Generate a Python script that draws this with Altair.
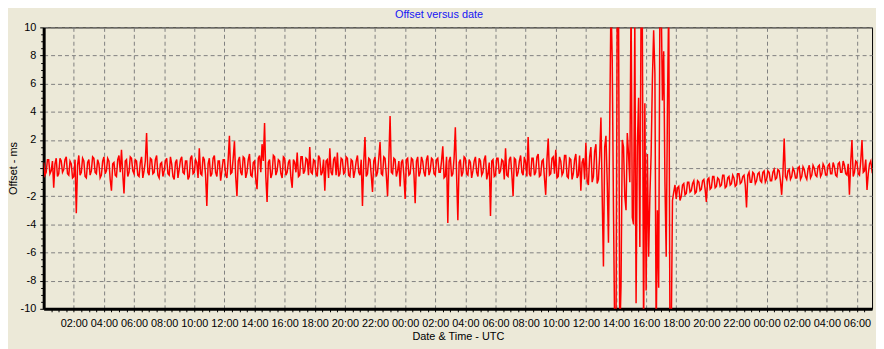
import altair as alt
import pandas as pd

# Clock offset in ms. Readings every 10 minutes from 00:00 UTC (day 1) ...
offset_day1 = [
    0.4, -0.3, 0.6, -0.2, -1.4, 0.7, -0.4, 0.5, -0.1, 0.8, -0.5, 0.3,
    -0.6, -3.2, 0.9, -0.3, 0.5, -0.7, 0.6, -0.2, 0.7, -0.4, 0.3, -0.5,
    0.8, -0.2, 0.5, -1.6, 0.4, -0.6, 0.9, 1.3, -1.8, 0.6, -0.3, 0.7,
    -0.4, 0.5, -0.6, 0.8, -0.2, 2.5, -0.5, 0.6, -0.3, 0.9, -0.7, 0.4,
    -0.2, 0.7, -0.5, 0.3, -0.8, 0.6, -0.1, 0.8, -0.4, 0.5, -0.6, 0.9,
    -0.3, 0.4, 1.4, -0.5, 0.6, -2.7, 0.7, -0.4, 0.9, -0.6, 0.5, -0.2,
    0.6, -0.7, 2.3, -0.3, 1.9, -2.0, 0.8, -0.5, 0.7, -0.3, 1.0, -0.6,
    0.5, -1.5, 0.9, 1.7, 3.2, -2.4, 0.6, -0.4, 0.8, -0.2, 0.5, -0.7,
    0.7, -0.3, 0.6, -1.4, 0.4, 1.1, -0.5, 0.8, -0.2, 0.6, 1.5, -0.4,
    0.5, -0.6, 0.7, -0.3, -1.6, 0.6, 1.4, -0.5, 0.8, 1.1, -0.4, 0.6,
    -0.3, 0.7, -0.6, 0.5, -0.2, 0.9, -0.5, -2.7, 2.2, -0.4, 0.6, -1.7,
    0.8, -0.3, 1.85, -0.5, 0.7, -2.0, 3.7, -0.4, 0.6, -0.2, -1.3, 0.6,
]
# ... and the readings 5 minutes after each of those
offset_day1_mid = [
    -0.5, 0.6, -0.4, 0.5, 0.3, -0.6, 0.7, -0.3, 0.6, -0.4, 0.5, -0.7,
    0.6, 0.2, -0.5, 0.7, -0.6, 0.4, -0.5, 0.8, -0.3, 0.6, -0.7, 0.5,
    -0.4, 0.7, -0.8, 0.3, -0.5, 0.6, -0.3, -0.4, 0.5, -0.6, 0.8, -0.2,
    0.6, -0.5, 0.4, -0.7, 0.5, -0.3, 0.7, -0.4, 0.6, -0.5, 0.3, -0.6,
    0.5, -0.4, 0.8, -0.6, 0.4, -0.7, 0.6, -0.3, 0.5, -0.8, 0.7, -0.4,
    0.6, -0.7, -0.4, 0.8, -0.5, 0.3, -0.6, 0.7, -0.3, 0.5, -0.9, 0.6,
    -0.5, 0.6, -0.4, 0.7, -0.6, 0.5, -0.3, 0.8, -0.7, 0.6, -0.5, 0.4,
    -0.8, 0.7, -0.3, 0.5, -0.6, 0.4, -0.7, 0.9, -0.5, 0.6, -0.4, 0.8,
    -0.5, 0.4, -0.7, 0.6, -0.3, -0.6, 0.8, -0.4, 0.7, -0.5, -0.3, 0.6,
    -0.4, 0.9, -0.5, 0.6, 0.5, -0.7, -0.3, 0.6, -0.5, -0.6, 0.7, -0.4,
    0.8, -0.5, 0.6, -0.7, 0.5, -0.3, 0.6, 0.4, -0.6, 0.7, -0.5, 0.5,
    -0.6, 0.7, -0.4, 0.8, -0.5, 0.6, -0.3, 0.7, -0.6, 0.5, 0.4, -0.5,
]
offset_day2_morning = [
    -2.2, 0.7, -0.4, 0.6, -2.5, 0.8, -0.3, 0.5, -0.6, 0.9, -0.2, 0.6,
    -0.5, 0.7, -0.3, 1.55, -0.6, -3.9, 0.8, -0.4, 2.9, -3.7, 0.6, -0.3,
    0.7, -0.5, 0.4, -0.2, 0.8, -0.6, 0.5, -0.3, 0.9, -0.4, -3.4, 0.6,
    -0.5, 0.7, -0.2, 0.5, 1.4, -0.6, 0.8, -2.0, 0.6, -0.3, 0.9, -0.5,
    0.4, 2.2, -0.6, 0.7, -0.3, 1.0, -0.5, 0.6, -1.9, 2.1, -0.4, 0.8,
    1.3, -0.6, 0.5, -0.3, 0.9, -0.7, 0.6, -0.4, 1.0, -0.5, -1.6, 0.7,
    1.8, -1.2, 1.5, -0.6, 1.7, -0.8,
]
offset_day2_morning_mid = [
    0.6, -0.5, 0.7, -0.4, 0.5, -0.6, 0.8, -0.3, 0.6, -0.5, 0.7, -0.4,
    0.6, -0.3, 0.5, -0.7, 0.8, 0.5, -0.6, 0.7, -0.5, 0.4, -0.6, 0.8,
    -0.4, 0.6, -0.7, 0.5, -0.3, 0.7, -0.5, 0.6, -0.8, 0.4, 0.5, -0.6,
    0.7, -0.4, 0.6, -0.8, -0.5, 0.6, -0.4, 0.7, -0.6, 0.5, -0.3, 0.8,
    -0.6, -0.4, 0.7, -0.5, 0.8, -0.6, 0.5, -0.7, 0.6, -0.5, 0.7, -0.4,
    -0.7, 0.8, -0.5, 0.9, -0.6, 0.7, -0.8, 0.6, -0.7, 0.9, 0.4, -0.8,
    -0.9, 0.8, -1.0, 1.2, -1.1, 0.9,
]
offset_disturbed = [
    3.6, -7.0, 2.3, -5.3, 12, -3.0, -12, 12, -8.4, 1.5,
    -3.0, 1.0, 12, -4.0, -9.6, 5.0, 12, -12, -8.7, -6.3,
    1.0, 9.8, -12, -8.5, 12, 8.3, -6.3, 12, -12, -1.7,
]
offset_disturbed_mid = [
    -2.0, 1.5, -1.0, 3.0, 7.7, -12, 12, -12, 2.0, -2.0,
    2.5, -1.0, -3.5, 10.5, 1.5, -5.6, 9.9, 4.6, 1.0, -2.0,
    6.3, 6.7, -3.0, 12, 4.8, -1.0, 4.3, -12, -2.3, -1.2,
]
offset_recovery = [
    -2.2, -1.3, -2.0, -1.1, -1.8, -1.0, -1.6, -0.9, -1.7, -1.0, -1.5, -0.8,
    -2.4, -0.7, -1.4, -0.6, -1.3, -0.8, -1.2, -0.5, -1.3, -0.6, -1.1, -0.7,
    -1.2, -0.4, -1.0, -0.5, -2.8, -0.3, -1.0, -0.4, -0.9, -0.3, -1.0, -0.2,
    -0.8, -0.3, -0.9, -0.1, -0.7, -0.2, -1.9, 2.1, -0.8, -0.1, -0.6, -0.2,
    -0.7, 0.1, -0.6, -0.1, -0.8, 0.2, -0.5, 0.0, -0.6, 0.2, -0.4, 0.1,
    -0.5, 0.3, -0.4, 0.1, -0.6, 0.4, -0.3, 0.2, -0.5, -1.9, 2.0, -0.3,
    0.4, -0.5, 2.0, -0.2, -1.55, 0.3, -0.2,
]
offset_recovery_mid = [
    -1.4, -2.3, -1.2, -1.9, -1.0, -1.7, -1.1, -1.8, -0.9, -1.6, -0.9, -1.5,
    -0.8, -1.5, -0.6, -1.4, -0.7, -1.3, -0.5, -1.4, -0.7, -1.2, -0.5, -1.3,
    -0.4, -1.1, -0.6, -1.2, -0.5, -1.0, -0.3, -1.1, -0.4, -0.9, -0.3, -1.0,
    -0.2, -0.9, -0.3, -0.8, -0.1, -0.9, -0.4, -0.6, -0.2, -0.8, 0.0, -0.7,
    0.0, -0.8, 0.1, -0.6, -0.1, -0.7, 0.2, -0.5, 0.1, -0.6, 0.3, -0.5,
    0.2, -0.4, 0.4, -0.5, 0.3, -0.3, 0.5, -0.4, 0.3, 0.4, -0.6, 0.5,
    -0.4, 0.5, -0.3, 0.6, -0.4, 0.5, 0.0,
]

sample_minutes = 5
x_domain_hours = [0, 55]
y_domain = [-10, 10]
x_tick_hours = [0.5 * i for i in range(1, 110)]      # ticks every 30 min
y_tick_values = [-10 + 0.5 * i for i in range(41)]   # ticks every 0.5 ms

offsets = []
for main, mid in [
    (offset_day1, offset_day1_mid),
    (offset_day2_morning, offset_day2_morning_mid),
    (offset_disturbed, offset_disturbed_mid),
    (offset_recovery, offset_recovery_mid),
]:
    for a, b in zip(main, mid):
        offsets.extend([a, b])

df = pd.DataFrame({
    "hours": [i * sample_minutes / 60 for i in range(len(offsets))],
    "offset": offsets,
})

FONT = "Liberation Sans"

x_axis = alt.Axis(
    values=x_tick_hours,
    labelExpr="datum.value % 2 == 0 ? (floor(datum.value % 24) < 10 ? '0' : '') + floor(datum.value % 24) + ':00' : ''",
    gridOpacity={"condition": {"test": "datum.value % 2 == 0", "value": 1}, "value": 0},
    tickSize=3,
    labelPadding=6,
    labelOverlap=False,
    labelFlush=False,
    title="Date & Time - UTC",
    titleX=418,
    titleY=28,
    titleBaseline="middle",
)

y_axis = alt.Axis(
    values=y_tick_values,
    labelExpr="datum.value % 2 == 0 && datum.value != 0 ? '' + datum.value : ''",
    gridOpacity={"condition": {"test": "datum.value % 2 == 0", "value": 1}, "value": 0},
    tickSize={"condition": {"test": "datum.value % 2 == 0", "value": 4}, "value": 3},
    labelPadding=4,
    labelOverlap=False,
    title="Offset - ms",
    titleX=-30,
    titleY=142,
    titleBaseline="middle",
    titleAngle=270,
)

chart = (
    alt.Chart(df)
    .mark_line(color="#FF0000", strokeWidth=1.5, clip=True)
    .encode(
        x=alt.X("hours:Q", scale=alt.Scale(domain=x_domain_hours, nice=False, zero=False), axis=x_axis),
        y=alt.Y("offset:Q", scale=alt.Scale(domain=y_domain, nice=False), axis=y_axis),
    )
    .properties(
        width=836,
        height=284,
        title=alt.TitleParams(
            "Offset versus date",
            color="#1515F5",
            font=FONT,
            fontSize=11,
            fontWeight="normal",
            anchor="middle",
            dx=-19,
            offset=1,
        ),
        autosize=alt.AutoSizeParams(type="none"),
        padding={"left": 36, "top": 18, "right": 4, "bottom": 39},
        background="#ECE9D8",
    )
    .configure_view(stroke="black", strokeWidth=1)
    .configure_axis(
        domainColor="black",
        domainWidth=3,
        tickColor="black",
        gridColor="#808080",
        gridDash=[4, 3],
        gridWidth=1,
        labelFont=FONT,
        labelFontSize=11,
        labelColor="black",
        titleFont=FONT,
        titleFontSize=11,
        titleFontWeight="normal",
        titleColor="black",
    )
)

chart.save("out.html", embed_options={"renderer": "svg", "actions": False})
